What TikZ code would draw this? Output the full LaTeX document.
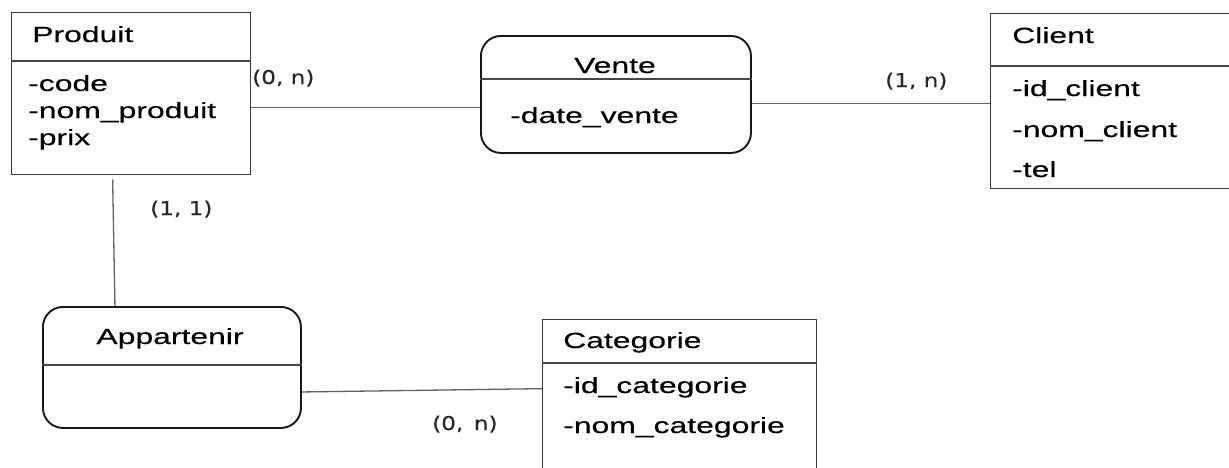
\documentclass[tikz,border=0pt]{standalone}
\usepackage{fontspec}
\setmainfont[FakeStretch=1.45,FakeBold=0.3]{Liberation Sans}
\newfontfamily\cardfont[FakeStretch=1.22,FakeBold=0.3]{DejaVu Sans}
\begin{document}
\begin{tikzpicture}[x=1pt,y=-1pt,
  entity/.style={draw=black!78, line width=1.3pt, inner sep=0, anchor=north west},
  assoc/.style={draw=black!90, line width=1.9pt, rounded corners=20pt, inner sep=0, anchor=north west},
  sep/.style={draw=black!72, line width=1.2pt},
  link/.style={draw=black!62, line width=1.3pt},
  txt/.style={inner sep=0, anchor=base west, font=\fontsize{22}{26}\selectfont, text=black},
  ctxt/.style={txt, anchor=base},
  card/.style={inner sep=0, anchor=base west, font=\cardfont\fontsize{19}{23}\selectfont, text=black!85}]
\useasboundingbox (0,0) rectangle (1229,467);
\fill[white] (0,0) rectangle (1229,467);
\clip (0,0) rectangle (1229,467);

% entities and associations
\node[entity, minimum width=239pt, minimum height=162pt] (produit) at (11,12) {};
\node[assoc, minimum width=270pt, minimum height=117pt] (vente) at (480,35) {};
\node[entity, minimum width=242pt, minimum height=175pt] (client) at (990,13) {};
\node[assoc, minimum width=258pt, minimum height=121pt] (appartenir) at (42,306) {};
\node[entity, minimum width=274pt, minimum height=170pt] (categorie) at (542,319) {};

% header separators
\draw[sep] (produit.west |- 0,61) -- (produit.east |- 0,61);
\draw[sep] (vente.west |- 0,79) -- (vente.east |- 0,79);
\draw[sep] (client.west |- 0,66) -- (client.east |- 0,66);
\draw[sep] (appartenir.west |- 0,365) -- (appartenir.east |- 0,365);
\draw[sep] (categorie.west |- 0,363) -- (categorie.east |- 0,363);

% titles
\node[txt] (tProduit) at (32,42) {Produit};
\node[ctxt] (tVente) at (615,73) {Vente};
\node[txt] (tClient) at (1012,43) {Client};
\node[ctxt] (tAppartenir) at (170,344) {Appartenir};
\node[txt] (tCategorie) at (563,348) {Categorie};

% attributes
\node[txt] (aCode) at (28,91) {-code};
\node[txt] (aNomProduit) at (28,118) {-nom\_produit};
\node[txt] (aPrix) at (28,145) {-prix};
\node[txt] (aDateVente) at (510,123) {-date\_vente};
\node[txt] (aIdClient) at (1012,96) {-id\_client};
\node[txt] (aNomClient) at (1012,137) {-nom\_client};
\node[txt] (aTel) at (1012,177) {-tel};
\node[txt] (aIdCategorie) at (563,393) {-id\_categorie};
\node[txt] (aNomCategorie) at (563,433) {-nom\_categorie};

% connectors
\coordinate (pv) at ([yshift=-14pt]produit.east);
\draw[link] (pv) -- (vente.west |- pv);
\coordinate (vc) at ([yshift=-2.5pt]client.west);
\draw[link] (vente.east |- vc) -- (vc);
\draw[link] ([shift={(-18.5pt,-4pt)}]produit.south) -- ([xshift=-57pt]appartenir.north);
\draw[link] ([yshift=-24.5pt]appartenir.east) -- ([yshift=16pt]categorie.west);

% cardinalities
\node[card] (c1) at (252,84) {(0, n)};
\node[card] (c2) at (885,87) {(1, n)};
\node[card] (c3) at (150,215) {(1, 1)};
\node[card] (c4) at (432,430) {(0,\,\ n)};
\end{tikzpicture}
\end{document}
